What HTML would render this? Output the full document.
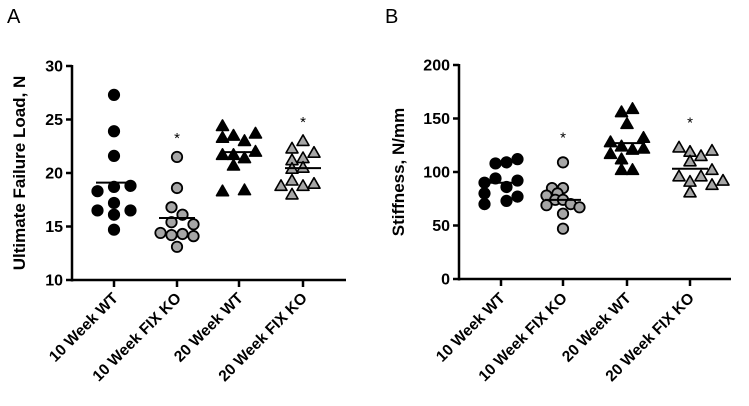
<!DOCTYPE html>
<html><head><meta charset="utf-8"><style>
html,body{margin:0;padding:0;background:#fff;}
svg{display:block;font-family:"Liberation Sans",Arial,sans-serif;}
</style></head><body>
<svg id="chart" width="749" height="406" viewBox="0 0 749 406" xmlns="http://www.w3.org/2000/svg"></svg>
<script>
const categories = ["10 Week WT","10 Week FIX KO","20 Week WT","20 Week FIX KO"];
const loadValues = [
  [27.3,23.9,21.6,18.3,18.7,18.8,17.2,16.5,16.5,16.1,14.7],
  [21.5,18.6,16.8,16.1,15.4,15.2,14.4,14.2,14.3,14.1,13.1],
  [24.4,23.3,23.5,23.0,23.7,21.7,21.7,21.4,22.0,20.7,18.3,18.4],
  [23.0,22.3,21.2,21.4,21.9,20.4,20.5,19.3,18.8,18.8,19.0,18.0]
];
const loadJitter = [
  [0,0,0,-1.5,0,1.5,0,-1.5,1.5,0,0],
  [0,0,-0.5,0.5,-0.5,1.5,-1.5,-0.5,0.5,1.5,0],
  [-1.5,-1.5,-0.5,0.5,1.5,-1.5,-0.5,0.5,1.5,-0.5,-1.5,0.5],
  [0,-1,-1,0,1,-1,0,-1,-2,0,1,-1]
];
const loadMeans = [19.1,15.8,21.95,20.45];
const loadTicks = [10,15,20,25,30];
const stiffValues = [
  [108,109,112,94,90,92,86,80,77,73,70],
  [109,85,85,78,80,74,74,69,70,67,61,47],
  [156,159,145,128,132,124,121,122,117,112,102,102],
  [123,119,115,120,110,102,96,96,91,92,88,81]
];
const stiffJitter = [
  [-0.5,0.5,1.5,-0.5,-1.5,1.5,0.5,-1.5,1.5,0.5,-1.5],
  [0,-1,0,-1.5,-0.5,-0.7,0,-1.5,0.7,1.5,0,0],
  [-0.5,0.5,0,-1.5,1.5,-0.5,0.5,1.5,-1.5,-0.5,-0.5,0.5],
  [-1,0,1,2,0,2,-1,1,0,3,2,0]
];
const stiffMeans = [90,74,127,103];
const stiffTicks = [0,50,100,150,200];

const NS="http://www.w3.org/2000/svg";
const svg=document.getElementById('chart');
function el(tag,attrs,parent){const e=document.createElementNS(NS,tag);for(const k in attrs)e.setAttribute(k,attrs[k]);(parent||svg).appendChild(e);return e;}

function panel(cfg){
  const g=el('g',{});
  
  
  const y=v=>cfg.y0+(v-cfg.vmin)/(cfg.vmax-cfg.vmin)*(cfg.y1-cfg.y0);
  const x=i=>cfg.xc[i];
  const L=el('text',{x:cfg.letterX,y:23,'font-size':20,fill:'#000'},g);L.textContent=cfg.letter;
  
  const ya=el('line',{x1:cfg.ax,y1:cfg.y1-1,x2:cfg.ax,y2:cfg.y0+1.5,stroke:'#000','stroke-width':2.5},g);
  
  const xa=el('line',{x1:cfg.ax-1,y1:cfg.y0,x2:cfg.axEnd,y2:cfg.y0,stroke:'#000','stroke-width':2.5},g);
  
  cfg.ticks.forEach(t=>{
    el('line',{x1:cfg.ax-6,y1:y(t),x2:cfg.ax,y2:y(t),stroke:'#000','stroke-width':2.5},g);
    const tx=el('text',{x:cfg.ax-9,y:y(t)+5.5,'font-size':16,'font-weight':'bold','text-anchor':'end'},g);
    tx.textContent=t;
    
  });
  const yt=el('text',{transform:`translate(${cfg.titleX},${(cfg.y0+cfg.y1)/2}) rotate(-90)`,'font-size':17,'font-weight':'bold','text-anchor':'middle'},g);
  yt.textContent=cfg.title;
  
  categories.forEach((c,i)=>{
    el('line',{x1:x(i),y1:cfg.y0,x2:x(i),y2:cfg.y0+7,stroke:'#000','stroke-width':2.5},g);
    const lx=x(i)+5, ly=299;
    const t=el('text',{transform:`translate(${lx},${ly}) rotate(-45)`,'font-size':15.5,'font-weight':'bold','text-anchor':'end'},g);
    t.textContent=c;
    
  });
  cfg.values.forEach((arr,i)=>{
    const fill=(i%2===1)?'#a6a6a6':'#000';
    arr.forEach((v,j)=>{
      const px=x(i)+cfg.jitter[i][j]*11, py=y(v);
      let m;
      if(i<2){m=el('circle',{cx:px,cy:py,r:5.2,fill:fill,stroke:'#000','stroke-width':1.8},g);}
      else{m=el('polygon',{points:`${px},${py-6} ${px-6},${py+4.5} ${px+6},${py+4.5}`,fill:fill,stroke:'#000','stroke-width':1.6,'stroke-linejoin':'round'},g);}
      
    });
    const ml=el('line',{x1:x(i)-18,y1:y(cfg.means[i]),x2:x(i)+18,y2:y(cfg.means[i]),stroke:'#000','stroke-width':2},g);
    
    if(i%2===1){
      const mx=Math.max(...arr);
      const s=el('text',{x:x(i),y:y(mx)-cfg.starGap,'font-size':15,'text-anchor':'middle'},g);
      s.textContent='*';
      
    }
  });
}
panel({name:'panel-a-failure-load',letter:'A',letterX:7,ax:72,axEnd:346,y0:280,y1:66,vmin:10,vmax:30,
  xc:[114,177,239,303],ticks:loadTicks,values:loadValues,jitter:loadJitter,means:loadMeans,
  title:'Ultimate Failure Load, N',titleX:25,starGap:14});
panel({name:'panel-b-stiffness',letter:'B',letterX:385,ax:459,axEnd:731,y0:279,y1:65,vmin:0,vmax:200,
  xc:[501,563,627,690],ticks:stiffTicks,values:stiffValues,jitter:stiffJitter,means:stiffMeans,
  title:'Stiffness, N/mm',titleX:404,starGap:20});
</script>
</body></html>
